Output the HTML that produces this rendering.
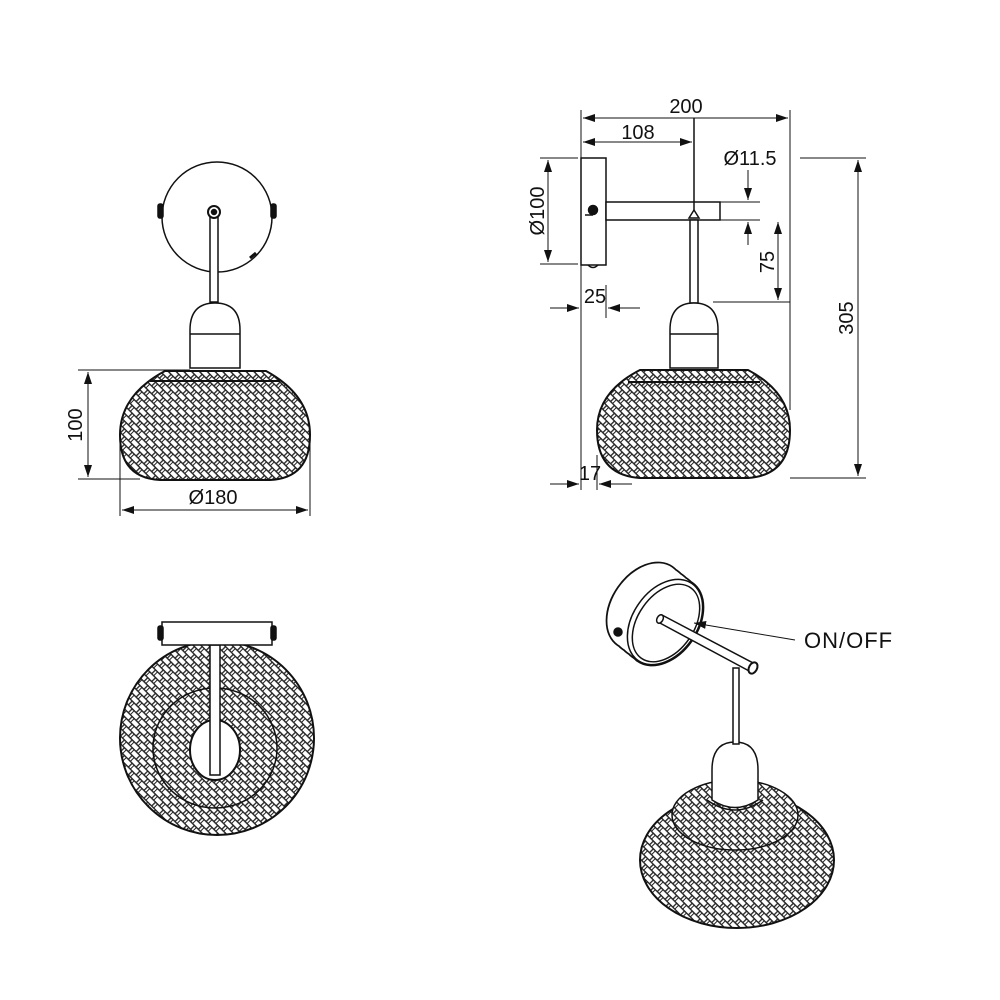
<!DOCTYPE html>
<html><head><meta charset="utf-8"><style>html,body{margin:0;padding:0;background:#fff}svg{display:block}</style></head><body>
<svg width="1000" height="1000" viewBox="0 0 1000 1000" xmlns="http://www.w3.org/2000/svg" font-family="Liberation Sans, sans-serif">
<defs>
<pattern id="w" width="11" height="11" patternUnits="userSpaceOnUse" patternTransform="rotate(45)">
<rect width="11" height="11" fill="#fff"/>
<path d="M0 0.7H11M0 6.2H11M0.7 0V5.5M6.2 5.5V11" stroke="#222" stroke-width="1.3"/>
<path d="M3.5 0V5.5M9 5.5V11" stroke="#222" stroke-width="1"/>
</pattern>
<marker id="a" markerWidth="12" markerHeight="8" refX="12" refY="4" orient="auto-start-reverse" markerUnits="userSpaceOnUse"><path d="M0 0L12 4L0 8Z" fill="#111"/></marker>
<g id="cs">
<ellipse cx="645" cy="606" rx="32" ry="47" transform="rotate(35 645 606)"/>
<ellipse cx="650" cy="610" rx="32" ry="47" transform="rotate(35 650 610)"/>
<ellipse cx="655" cy="614" rx="32" ry="47" transform="rotate(35 655 614)"/>
<ellipse cx="660" cy="618" rx="32" ry="47" transform="rotate(35 660 618)"/>
<ellipse cx="665" cy="622" rx="32" ry="47" transform="rotate(35 665 622)"/>
</g>
</defs>
<g stroke="#111" stroke-width="1.5" fill="none">
<!-- Front view -->
<circle cx="217" cy="217" r="55" fill="#fff"/>
<rect x="158" y="204" width="5" height="14" rx="2" fill="#111"/>
<rect x="271" y="204" width="5" height="14" rx="2" fill="#111"/>
<path d="M250 258l6-5" stroke-width="3"/>
<rect x="210" y="212" width="8" height="90" fill="#fff"/>
<circle cx="214" cy="212" r="6" fill="#fff" stroke-width="2"/>
<circle cx="214" cy="212" r="2.5" fill="#111"/>
<path d="M190 368V330Q190 303 215 303Q240 303 240 330V368Z" fill="#fff"/>
<line x1="190" y1="334" x2="240" y2="334"/>
<path d="M165 371Q120 395 120 435Q120 478 160 480H270Q310 478 310 435Q310 395 266 371Z" fill="url(#w)" stroke-width="2"/>
<line x1="150" y1="381" x2="280" y2="381" stroke-width="2"/>
<line x1="78" y1="370" x2="190" y2="370" stroke-width="1"/>
<line x1="78" y1="479" x2="140" y2="479" stroke-width="1"/>
<line x1="88" y1="372" x2="88" y2="477" marker-start="url(#a)" marker-end="url(#a)" stroke-width="1"/>
<line x1="120" y1="440" x2="120" y2="516" stroke-width="1"/>
<line x1="310" y1="440" x2="310" y2="516" stroke-width="1"/>
<line x1="122" y1="510" x2="308" y2="510" marker-start="url(#a)" marker-end="url(#a)" stroke-width="1"/>

<!-- Side view -->
<rect x="581" y="158" width="25" height="107" fill="#fff"/>
<circle cx="593" cy="210" r="4.5" fill="#111"/>
<path d="M585 215h8" />
<path d="M588 265q5 5 10 0" />
<rect x="606" y="202" width="114" height="18" fill="#fff"/>
<path d="M694 118V210"/>
<path d="M689 218l5-8 5 8z" fill="#fff"/>
<rect x="690" y="220" width="8" height="83" fill="#fff"/>
<path d="M670 368V330Q670 303 694 303Q718 303 718 330V368Z" fill="#fff"/>
<line x1="670" y1="334" x2="718" y2="334"/>
<path d="M640 370Q597 392 597 430Q597 475 640 478H748Q790 475 790 430Q790 392 748 370Z" fill="url(#w)" stroke-width="2"/>
<line x1="628" y1="382" x2="760" y2="382" stroke-width="2"/>
<g stroke-width="1">
<line x1="581" y1="110" x2="581" y2="490"/>
<line x1="790" y1="110" x2="790" y2="410"/>
<line x1="583" y1="118" x2="788" y2="118" marker-start="url(#a)" marker-end="url(#a)"/>
<line x1="583" y1="142" x2="692" y2="142" marker-start="url(#a)" marker-end="url(#a)"/>
<line x1="540" y1="158" x2="578" y2="158"/>
<line x1="540" y1="264" x2="578" y2="264"/>
<line x1="548" y1="160" x2="548" y2="262" marker-start="url(#a)" marker-end="url(#a)"/>
<line x1="606" y1="285" x2="606" y2="318"/>
<line x1="550" y1="308" x2="579" y2="308" marker-end="url(#a)"/>
<line x1="640" y1="308" x2="608" y2="308" marker-end="url(#a)"/>
<line x1="597" y1="455" x2="597" y2="490"/>
<line x1="550" y1="484" x2="579" y2="484" marker-end="url(#a)"/>
<line x1="632" y1="484" x2="599" y2="484" marker-end="url(#a)"/>
<line x1="705" y1="202" x2="760" y2="202"/>
<line x1="705" y1="220" x2="760" y2="220"/>
<line x1="748" y1="170" x2="748" y2="200" marker-end="url(#a)"/>
<line x1="748" y1="245" x2="748" y2="222" marker-end="url(#a)"/>
<line x1="713" y1="302" x2="790" y2="302"/>
<line x1="778" y1="222" x2="778" y2="300" marker-start="url(#a)" marker-end="url(#a)"/>
<line x1="800" y1="158" x2="866" y2="158"/>
<line x1="790" y1="478" x2="866" y2="478"/>
<line x1="858" y1="160" x2="858" y2="476" marker-start="url(#a)" marker-end="url(#a)"/>
</g>

<!-- Top view -->
<circle cx="217" cy="738" r="97" fill="url(#w)" stroke-width="2"/>
<ellipse cx="215" cy="748" rx="62" ry="60" fill="url(#w)" stroke-width="1.5"/>
<ellipse cx="215" cy="750" rx="25" ry="30" fill="#fff" stroke-width="2"/>
<rect x="210" y="645" width="10" height="130" fill="#fff"/>
<rect x="162" y="622" width="110" height="23" fill="#fff"/>
<rect x="158" y="626" width="5" height="14" rx="2" fill="#111"/>
<rect x="271" y="626" width="5" height="14" rx="2" fill="#111"/>

<!-- 3D view -->
<ellipse cx="737" cy="860" rx="97" ry="68" fill="url(#w)" stroke-width="2"/>
<ellipse cx="735" cy="815" rx="63" ry="35" fill="url(#w)" stroke-width="1.5"/>
<path d="M712 800V770Q712 742 735 742Q758 742 758 770V800Q735 815 712 800Z" fill="#fff"/>
<path d="M707 800Q735 820 763 800" />
<rect x="733" y="668" width="6" height="76" fill="#fff"/>
<use href="#cs" stroke-width="3.5"/>
<use href="#cs" fill="#fff" stroke="none"/>
<ellipse cx="665" cy="622" rx="32" ry="47" transform="rotate(35 665 622)"/>
<ellipse cx="666" cy="623" rx="28" ry="43" transform="rotate(35 666 623)"/>
<circle cx="618" cy="632" r="4" fill="#111"/>
<path d="M662 615L755 664L751 672L658 622Z" fill="#fff"/>
<ellipse cx="753" cy="668" rx="4" ry="6" transform="rotate(28 753 668)" fill="#fff" stroke-width="2"/>
<ellipse cx="660" cy="619" rx="3" ry="4.5" transform="rotate(28 660 619)" fill="#fff"/>
<line x1="795" y1="640" x2="694" y2="623" stroke-width="1" marker-end="url(#a)"/>
</g>
<g fill="#111" font-size="20">
<text x="213" y="504" text-anchor="middle">Ø180</text>
<text transform="translate(82 425) rotate(-90)" text-anchor="middle">100</text>
<text x="686" y="113" text-anchor="middle">200</text>
<text x="638" y="139" text-anchor="middle">108</text>
<text transform="translate(544 211) rotate(-90)" text-anchor="middle">Ø100</text>
<text x="595" y="303" text-anchor="middle">25</text>
<text x="590" y="480" text-anchor="middle">17</text>
<text x="750" y="165" text-anchor="middle">Ø11.5</text>
<text transform="translate(774 262) rotate(-90)" text-anchor="middle">75</text>
<text transform="translate(853 318) rotate(-90)" text-anchor="middle">305</text>
<text x="804" y="648" font-size="22" letter-spacing="1">ON/OFF</text>
</g>
</svg>
</body></html>
